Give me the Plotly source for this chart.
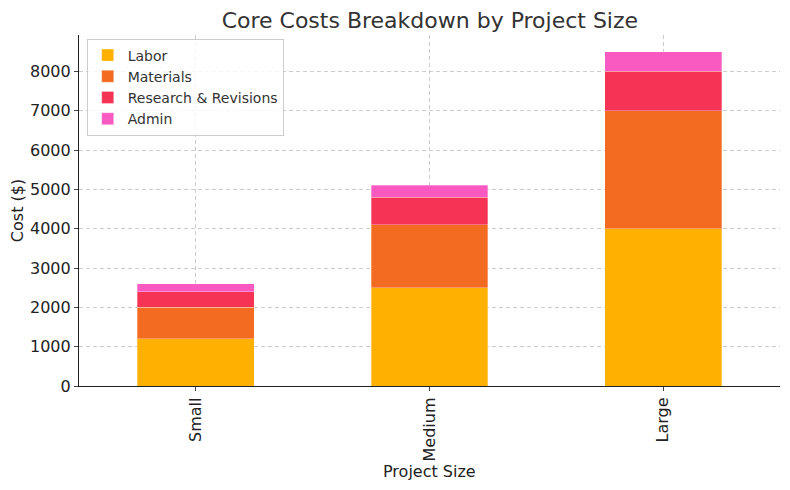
import plotly.graph_objects as go

# project sizes and cost components
sizes = ["Small", "Medium", "Large"]
labor = [1200, 2500, 4000]
materials = [800, 1600, 3000]
research = [400, 700, 1000]
admin = [200, 300, 500]

series = [
    ("Labor", labor, "#FFB000"),
    ("Materials", materials, "#F26B21"),
    ("Research & Revisions", research, "#F53354"),
    ("Admin", admin, "#F85AC2"),
]

fig = go.Figure()
for name, vals, col in series:
    fig.add_trace(go.Bar(
        x=sizes, y=vals, name=name, width=0.5,
        marker=dict(color=col, line=dict(width=0.6, color="rgba(255,255,255,0.5)")),
    ))

grid = dict(showgrid=True, gridcolor="#cccccc", griddash="4px,3px", gridwidth=1)

fig.update_layout(
    barmode="stack",
    width=790, height=490,
    margin=dict(l=71, r=18, t=27, b=112),
    paper_bgcolor="white", plot_bgcolor="white",
    font=dict(family="DejaVu Sans", color="#222", size=15),
    title=dict(text="Core Costs Breakdown by Project Size", x=0.534, xanchor="center",
               y=0.975, yanchor="middle", font=dict(size=22, color="#333")),
    legend=dict(x=0.011, y=0.99, xanchor="left", yanchor="top",
                bgcolor="rgba(255,255,255,0.8)", bordercolor="#cccccc", borderwidth=1,
                font=dict(size=14, color="#333"), traceorder="normal",
                itemwidth=30, tracegroupgap=0),
    annotations=[dict(text="Project Size", x=0.5, y=-0.243, xref="paper", yref="paper",
                      xanchor="center", yanchor="middle", showarrow=False,
                      font=dict(size=16, color="#222"))],
)
fig.update_xaxes(
    range=[-0.5, 2.5], tickangle=-90, ticks="outside", ticklen=4,
    showline=True, linecolor="#222", linewidth=1.2, tickfont=dict(size=16),
    layer="above traces", automargin=False,
    **grid,
)
fig.update_yaxes(
    title=dict(text="Cost ($)", font=dict(size=16), standoff=8),
    range=[0, 8925], tickvals=list(range(0, 9000, 1000)), ticks="outside", ticklen=4,
    showline=True, linecolor="#222", linewidth=1.2, tickfont=dict(size=16),
    zeroline=False, layer="above traces", automargin=False,
    **grid,
)

fig.write_html("out.html")
